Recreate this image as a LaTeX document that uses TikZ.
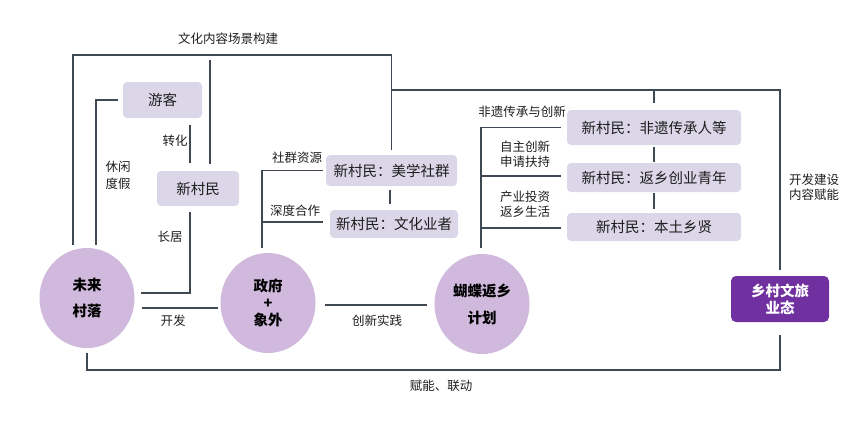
\documentclass[tikz,border=0pt]{standalone}
\usepackage{fontspec}
\setmainfont{Noto Sans CJK SC}
\usetikzlibrary{calc,shapes.geometric}
\definecolor{ln}{HTML}{3F4954}
\definecolor{boxc}{HTML}{DCD6E9}
\definecolor{circ}{HTML}{D0B9DD}
\definecolor{dp}{HTML}{7030A0}
\definecolor{txt}{HTML}{1E1E1E}
\begin{document}
\begin{tikzpicture}[x=1pt,y=-1pt,
  conn/.style={draw=ln,line width=1.7pt},
  box/.style={fill=boxc,rounded corners=4pt,inner sep=0pt,text=txt,
    font=\fontsize{14.5}{16}\selectfont},
  hub/.style={ellipse,fill=circ,minimum width=95pt,minimum height=100pt,
    inner sep=0pt,align=center,text=black},
  dbox/.style={fill=dp,rounded corners=5pt,inner sep=0pt,text=white,align=center,
    font=\fontsize{14.5}{17}\selectfont\bfseries},
  lbl/.style={inner sep=0pt,align=center,text=txt,font=\fontsize{12.5}{15}\selectfont}
]
\useasboundingbox (0,0) rectangle (866,429);

% hubs
\node[hub,font=\fontsize{14.5}{26}\selectfont\bfseries] (wl) at (87,298) {未来\\村落};
\node[hub,font=\fontsize{14.5}{17}\selectfont\bfseries] (gov) at (268,303) {政府\\+\\象外};
\node[hub,font=\fontsize{14.5}{27}\selectfont\bfseries] (hd) at (482,304) {蝴蝶返乡\\计划};

% boxes
\node[box,minimum width=79pt,minimum height=36pt] (yk) at (162.5,100) {游客};
\node[box,minimum width=82pt,minimum height=35pt] (xcm) at (198,188.5) {新村民};
\node[box,minimum width=131pt,minimum height=31pt] (ms) at (391.5,170.5) {新村民：美学社群};
\node[box,minimum width=128pt,minimum height=28pt] (wh) at (394,224) {新村民：文化业者};
\node[box,minimum width=174pt,minimum height=35pt] (fy) at (654,127.5) {新村民：非遗传承人等};
\node[box,minimum width=174pt,minimum height=29pt] (fx) at (654,177.5) {新村民：返乡创业青年};
\node[box,minimum width=174pt,minimum height=28pt] (bt) at (654,227) {新村民：本土乡贤};
\node[dbox,minimum width=98pt,minimum height=46pt] (xcwl) at (780,299) {乡村文旅\\业态};

% labels
\node[lbl] (l1) at (228,39) {文化内容场景构建};
\node[lbl] (l2) at (175,141) {转化};
\node[lbl,font=\fontsize{12.5}{17}\selectfont] (l3) at (118,175.5) {休闲\\度假};
\node[lbl] (l4) at (170,237) {长居};
\node[lbl] (l5) at (297,158) {社群资源};
\node[lbl] (l6) at (295,211) {深度合作};
\node[lbl] (l7) at (173,321) {开发};
\node[lbl] (l8) at (377,321) {创新实践};
\node[lbl] (l9) at (441,386) {赋能、联动};
\node[lbl] (l10) at (522,112) {非遗传承与创新};
\node[lbl] (l11) at (525,154.5) {自主创新\\申请扶持};
\node[lbl] (l12) at (525,204.5) {产业投资\\返乡生活};
\node[lbl] (l13) at (814,187.5) {开发建设\\内容赋能};

% connectors
\coordinate (j1) at (392,90);
\draw[conn] ([xshift=-14pt,yshift=3pt]wl.north) |- ([yshift=100pt]ms.north) -- ([yshift=5pt]ms.north);
\draw[conn] (j1) -| ([yshift=6pt]xcwl.north);
\draw[conn] (fy.north |- j1) -- ([yshift=7pt]fy.north);
\draw[conn] ([yshift=-13pt]xcwl.south) |- ([yshift=-22pt]wl.south) -- ([yshift=-5pt]wl.south);
\draw[conn] ([xshift=-5pt]yk.west) -| ([xshift=9pt,yshift=3pt]wl.north);
\draw[conn] ([xshift=-8pt,yshift=46pt]xcm.north) -- ([xshift=-8pt,yshift=8pt]xcm.north);
\draw[conn] ([xshift=12pt,yshift=111pt]xcm.north) -- ([xshift=12pt,yshift=7pt]xcm.north);
\draw[conn] ([xshift=-8pt,yshift=-6pt]xcm.south) |- ([xshift=6pt,yshift=5pt]wl.east);
\draw[conn] ([xshift=7pt,yshift=-10pt]wl.east) -- ([xshift=-2pt,yshift=-5pt]gov.west);
\draw[conn] ([xshift=9pt,yshift=-2pt]gov.east) -- ([xshift=-7pt,yshift=-1pt]hd.west);
\draw[conn] ([xshift=-6pt,yshift=5pt]gov.north) |- ([xshift=-3pt]ms.west);
\draw[conn] ([xshift=-7pt,yshift=2pt]wh.west) -- ++(-61,0);
\draw[conn] ([xshift=-1.5pt,yshift=-4pt]ms.south) -- ([xshift=-4pt,yshift=6pt]wh.north);
\draw[conn] ([xshift=-1pt,yshift=6pt]hd.north) |- ([xshift=-6pt]fy.west);
\draw[conn] ([xshift=-6pt,yshift=1.5pt]fx.west) -- ++(-80,0);
\draw[conn] ([xshift=-6pt,yshift=-1pt]bt.west) -- ++(-80,0);
\draw[conn] ([yshift=-2pt]fy.south) -- ([yshift=1pt]fx.north);
\draw[conn] ([yshift=-1pt]fx.south) -- ([yshift=4pt]bt.north);
\end{tikzpicture}
\end{document}
